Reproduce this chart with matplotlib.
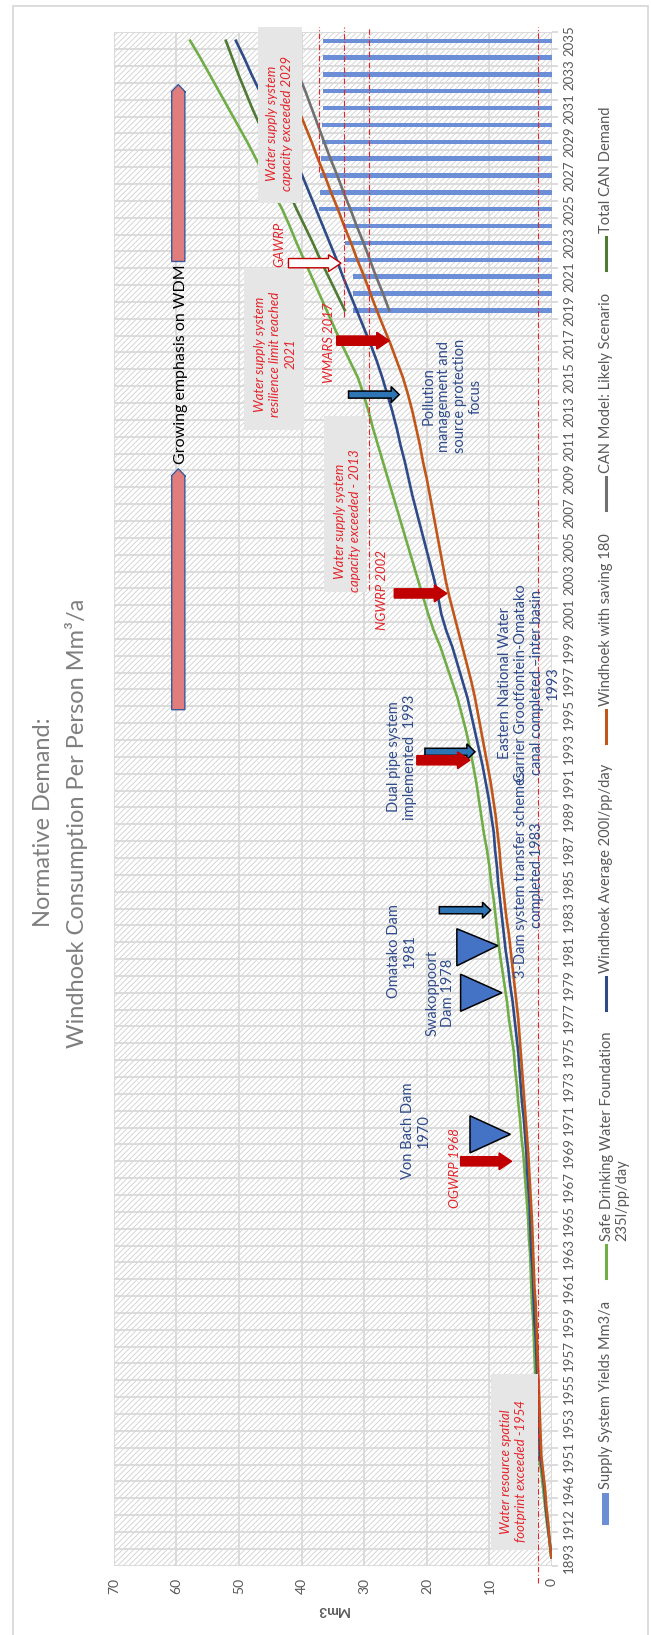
import numpy as np
import matplotlib
matplotlib.use("Agg")
import matplotlib.pyplot as plt
from matplotlib.patches import Rectangle, Polygon, FancyArrow
from matplotlib.lines import Line2D

plt.rcParams['font.family'] = ['Lato', 'DejaVu Sans']
plt.rcParams['hatch.linewidth'] = 0.6

# categories of the (originally horizontal) year axis
years = ["1893", "1900", "1912", "1930", "1946", "1950"] + [str(y) for y in range(1951, 2036)]

safe_235 = [0.1, 0.4, 0.8, 1.1, 1.4, 1.7,
            2.1, 2.2, 2.3, 2.4, 2.6, 2.7, 2.8, 2.9, 3.0, 3.2,
            3.3, 3.4, 3.5, 3.7, 3.8, 4.0, 4.2, 4.4, 4.6, 4.9,
            5.1, 5.4, 5.6, 5.9, 6.1, 6.5, 6.9, 7.2, 7.6, 8.0,
            8.4, 8.7, 9.0, 9.3, 9.7, 10.0, 10.4, 10.9, 11.3, 11.7,
            12.1, 12.6, 13.1, 13.7, 14.4, 15.1, 16.0, 16.9, 17.8, 18.9,
            19.8, 20.6, 21.4, 22.2, 23.0, 23.8, 24.6, 25.4, 26.2, 27.0,
            27.8, 28.6, 29.3, 30.1, 31.0, 32.3, 33.6, 34.8, 36.0, 37.2,
            38.4, 39.6, 40.8, 41.9, 43.1, 44.5, 45.9, 47.3, 48.7, 50.2,
            51.7, 53.2, 54.7, 56.2, 57.8]

avg_200 = [0.1, 0.4, 0.7, 1.0, 1.2, 1.5,
           1.9, 2.0, 2.1, 2.2, 2.3, 2.4, 2.5, 2.6, 2.8, 2.9,
           3.0, 3.1, 3.3, 3.4, 3.5, 3.6, 3.8, 4.0, 4.1, 4.3,
           4.5, 4.8, 5.0, 5.2, 5.4, 5.7, 6.0, 6.3, 6.7, 7.0,
           7.4, 7.7, 8.0, 8.3, 8.6, 8.8, 9.1, 9.3, 9.7, 10.1,
           10.6, 11.1, 11.7, 12.3, 12.9, 13.5, 14.3, 15.1, 15.9, 16.9,
           17.7, 18.2, 18.8, 19.5, 20.2, 20.9, 21.6, 22.3, 22.9, 23.5,
           24.2, 24.8, 25.5, 26.3, 27.1, 28.0, 29.0, 30.1, 31.2, 32.3,
           33.4, 34.4, 35.5, 36.6, 37.7, 38.8, 39.9, 41.2, 42.6, 44.0,
           45.3, 46.7, 48.0, 49.2, 50.5]

saving_180 = [0.1, 0.4, 0.6, 0.9, 1.1, 1.4,
              1.7, 1.8, 1.9, 2.0, 2.1, 2.2, 2.3, 2.4, 2.5, 2.6,
              2.8, 2.9, 3.0, 3.1, 3.2, 3.35, 3.5, 3.65, 3.8, 4.0,
              4.2, 4.4, 4.6, 4.8, 5.0, 5.2, 5.4, 5.7, 6.0, 6.3,
              6.6, 6.9, 7.3, 7.6, 7.9, 8.2, 8.4, 8.7, 9.0, 9.4,
              9.8, 10.3, 10.8, 11.3, 11.8, 12.3, 12.9, 13.6, 14.3, 15.0,
              15.7, 16.4, 17.0, 17.5, 18.0, 18.5, 19.0, 19.5, 20.0, 20.6,
              21.1, 21.7, 22.3, 23.0, 23.8, 24.8, 25.8, 26.9, 28.0, 29.0,
              30.0, 31.1, 32.1, 33.2, 34.2, 35.3, 36.3, 37.4, 38.4, 39.5,
              40.6, 41.7, 42.8, 43.9, 45.0]

# projections only exist from 2019
future_years = [str(y) for y in range(2019, 2036)]
can_model = [26.0, 27.0, 28.1, 29.1, 30.1, 31.2, 32.2, 33.3, 34.3, 35.4, 36.4, 37.4, 38.4, 39.4, 40.5, 41.7, 43.0]
total_can = [33.1, 34.4, 35.7, 37.0, 38.2, 39.5, 40.8, 42.0, 43.2, 44.4, 45.5, 46.7, 47.9, 49.0, 50.1, 51.1, 52.1]
supply_yield = [31.8, 31.8, 31.8, 33.1, 33.1, 33.1, 37.2, 37.1, 37.1, 36.9, 36.8, 36.8, 36.6, 36.6, 36.6, 36.6, 36.6]

C_GREEN = '#70AD47'
C_NAVY = '#2E4A87'
C_ORANGE = '#C0561A'
C_GRAY = '#707070'
C_DKGREEN = '#4F7A33'
C_BAR = '#6B8ED6'
C_RED = '#C00000'
C_REDTXT = '#E3242B'
C_BLUETXT = '#2F4B8A'
C_TXT = '#595959'
C_GRID = '#D9D9D9'
C_BOX = '#E7E6E6'

W, H = 651, 1635
fig = plt.figure(figsize=(W / 100, H / 100), dpi=100)


def fx(px):
    return px / W


def fy(py):
    return 1 - py / H


ax = fig.add_axes([fx(113.8), fy(1565.7), fx(552) - fx(113.8), fy(32.3) - fy(1565.7)])

idx = np.arange(len(years))
fidx = idx[[years.index(y) for y in future_years]]

# hatched plot area
ax.add_patch(Rectangle((0, 0), 1, 1, transform=ax.transAxes, facecolor='white',
                       edgecolor='#CFCFCF', hatch='//////', lw=0, zorder=0))

ax.barh(fidx, supply_yield, height=0.26, color=C_BAR, zorder=2)
ax.plot(safe_235, idx, color=C_GREEN, lw=1.9, zorder=3)
ax.plot(avg_200, idx, color=C_NAVY, lw=1.9, zorder=3)
ax.plot(saving_180, idx, color=C_ORANGE, lw=1.9, zorder=3)
ax.plot(can_model, fidx, color=C_GRAY, lw=1.9, zorder=3)
ax.plot(total_can, fidx, color=C_DKGREEN, lw=1.9, zorder=3)

ax.set_xlim(70, 0)
ax.set_ylim(-0.5, len(years) - 0.5)
for s in ax.spines.values():
    s.set_visible(False)

ax.set_xticks(range(0, 71, 10))
ax.set_xticklabels([str(v) for v in range(0, 71, 10)], rotation=90, fontsize=10, color=C_TXT)
ax.tick_params(axis='x', length=0, pad=9)

ax.yaxis.tick_right()
ax.set_yticks(np.arange(-0.5, len(years), 1.0))
ax.set_yticklabels([])
ax.set_yticks(idx[::2], minor=True)
ax.set_yticklabels(years[::2], minor=True, rotation=90, va='center', fontsize=9.5, color=C_TXT)
ax.tick_params(axis='y', which='major', length=4, width=1.3, color=C_GRID, right=True, left=False)
ax.tick_params(axis='y', which='minor', length=0, pad=8, right=True, left=False,
               labelright=True, labelleft=False)
ax.set_axisbelow(True)
ax.grid(True, which='major', color=C_GRID, lw=1.3)

# red reference lines (capacity levels)
for v, y0 in [(37.2, 82.2), (33.2, 73.6), (29.3, 57.4), (2.3, -1.5)]:
    ax.add_line(Line2D([v, v], [y0, 90.8], color=C_REDTXT, lw=0.8,
                       ls=(0, (5, 2, 1, 2)), zorder=3.5, clip_on=False))

# grey note boxes
for x0, x1, y0, y1 in [(39.9, 47.0, 80.35, 90.8), (39.6, 49.2, 66.9, 76.5),
                       (29.6, 36.5, 57.3, 67.7), (2.3, 9.8, 0.43, 10.9)]:
    ax.add_patch(Rectangle((x0, y0), x1 - x0, y1 - y0, facecolor=C_BOX, edgecolor='none',
                           zorder=4, clip_on=False))

# WDM arrows
for y0, y1 in [(50.3, 64.6), (76.9, 87.4)]:
    ax.add_patch(FancyArrow(59.7, y0, 0, y1 - y0, width=2.1, head_width=2.3, head_length=0.45,
                            length_includes_head=True, facecolor='#E27D7D', edgecolor='#3A5A9A',
                            lw=1.0, zorder=5))

# dam triangles
for base, apex, lo, mid, hi in [(13.1, 6.65, 24.0, 25.1, 26.2), (14.6, 8.0, 32.4, 33.5, 34.6),
                                (15.2, 8.65, 35.1, 36.3, 37.3)]:
    ax.add_patch(Polygon([(base, lo), (base, hi), (apex, mid)], closed=True,
                         facecolor='#4472C4', edgecolor='black', lw=1.1, zorder=5))

# blue event arrows
for tail, tip, y in [(18.0, 9.8, 38.4), (20.3, 12.3, 47.8), (32.5, 24.4, 69.0)]:
    ax.add_patch(FancyArrow(tail, y, tip - tail, 0, width=0.42, head_width=0.95, head_length=1.3,
                            length_includes_head=True, facecolor='#2E75B6', edgecolor='black',
                            lw=1.1, zorder=5))

# red (reclamation) arrows
for tail, tip, y, fc in [(14.6, 6.45, 23.5, C_RED), (21.6, 13.1, 47.3, C_RED), (25.2, 16.8, 57.2, C_RED),
                         (34.4, 26.0, 72.2, C_RED), (42.1, 33.7, 76.8, 'white')]:
    ax.add_patch(FancyArrow(tail, y, tip - tail, 0, width=0.55, head_width=1.0, head_length=2.0,
                            length_includes_head=True, facecolor=fc, edgecolor=C_RED,
                            lw=1.0, zorder=5))

blue_kw = dict(color=C_BLUETXT, fontsize=10.5, rotation=90, ha='center', va='center',
               multialignment='center', linespacing=1.15, zorder=6, clip_on=False)
red_kw = dict(color=C_REDTXT, fontsize=9.5, style='italic', rotation=90, ha='center', va='center',
              multialignment='center', linespacing=1.3, zorder=6, clip_on=False)

ax.text(59.2, 70.8, "Growing emphasis on WDM", color='black', fontsize=11.5, rotation=90,
        ha='center', va='center', zorder=6)
ax.text(21.8, 25.3, "Von Bach Dam\n1970", **blue_kw)
ax.text(17.8, 33.5, "Swakoppoort\nDam 1978", **blue_kw)
ax.text(24.0, 36.0, "Omatako Dam\n1981", **blue_kw)
ax.text(3.7, 40.5, "3-Dam system transfer schemes\ncompleted 1983", **blue_kw)
ax.text(24.0, 47.5, "Dual pipe system\nimplemented  1993", **blue_kw)
ax.text(3.7, 51.9, "Eastern National Water\nCarrier Grootfontein-Omatako\n"
        "canal completed \u2013inter basin\n1993", **blue_kw)
ax.text(16.0, 68.9, "Pollution\nmanagement and\nsource protection\nfocus", **blue_kw)

ax.text(15.5, 23.1, "OGWRP 1968", **red_kw)
ax.text(27.2, 57.4, "NGWRP 2002", **red_kw)
ax.text(35.7, 72.1, "WMARS 2017", **red_kw)
ax.text(43.5, 77.9, "GAWRP", **red_kw)
ax.text(6.1, 5.1, "Water resource spatial\nfootprint exceeded -1954", **red_kw)
ax.text(32.7, 61.5, "Water supply system\ncapacity exceeded - 2013", **red_kw)
ax.text(44.2, 71.4, "Water supply system\nresilience limit reached\n2021", **red_kw)
ax.text(43.6, 85.1, "Water supply system\ncapacity exceeded 2029", **red_kw)

# titles and axis label
fig.text(fx(44), fy(822), "Normative Demand:", rotation=90, ha='center', va='center',
         fontsize=17, color='#7F7F7F')
fig.text(fx(77), fy(823), "Windhoek Consumption Per Person Mm\u00b3/a", rotation=90,
         ha='center', va='center', fontsize=17, color='#7F7F7F')
fig.text(fx(333), fy(1610), "Mm3", rotation=180, ha='center', va='center', fontsize=10,
         fontweight='bold', color=C_TXT)

# legend, drawn by hand because the chart is turned on its side
legend = [("Supply System Yields Mm3/a", C_BAR, 'bar', 1493, 1525),
          ("Safe Drinking Water Foundation\n235l/pp/day", C_GREEN, 'line', 1245, 1278),
          ("Windhoek Average 200l/pp/day", C_NAVY, 'line', 977, 1010),
          ("Windhoek with saving 180", C_ORANGE, 'line', 710, 743),
          ("CAN Model: Likely Scenario", C_GRAY, 'line', 477, 510),
          ("Total CAN Demand", C_DKGREEN, 'line', 237, 270)]
for label, col, kind, top, bot in legend:
    if kind == 'bar':
        fig.patches.append(Rectangle((fx(602), fy(bot)), fx(609) - fx(602), fy(top) - fy(bot),
                                     transform=fig.transFigure, facecolor=col, edgecolor='none'))
    else:
        fig.lines.append(Line2D([fx(606), fx(606)], [fy(bot), fy(top)], transform=fig.transFigure,
                                color=col, lw=2.2))
    xc = 614.5 if "\n" in label else 606
    fig.text(fx(xc), fy(top - 4), label, rotation=90, ha='center', va='bottom',
             multialignment='left', fontsize=10.5, color=C_TXT, linespacing=1.1)

# chart border
fig.patches.append(Rectangle((fx(12.5), fy(1645)), fx(648) - fx(12.5), fy(6) - fy(1645),
                             transform=fig.transFigure, fill=False, edgecolor=C_GRID, lw=1.3))

fig.savefig("out.png", dpi=100)
